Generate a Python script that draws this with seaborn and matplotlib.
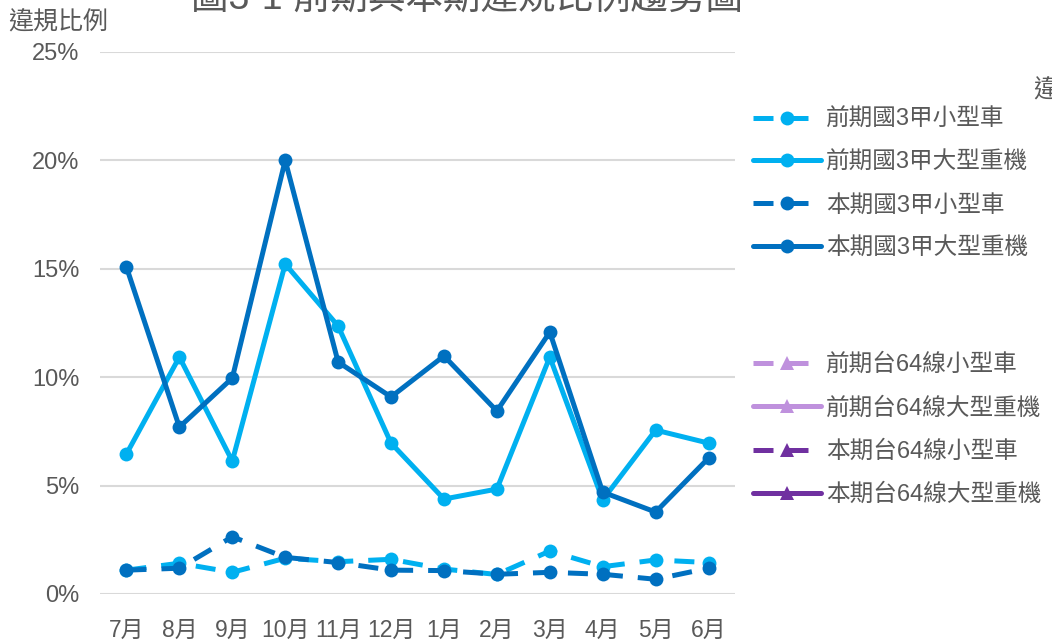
import numpy as np
import pandas as pd
import matplotlib
matplotlib.use("Agg")
import matplotlib.pyplot as plt
import seaborn as sns
from matplotlib.ticker import PercentFormatter

months = ["7月", "8月", "9月", "10月", "11月", "12月", "1月", "2月", "3月", "4月", "5月", "6月"]

prev_g3_small = [1.10, 1.42, 1.00, 1.65, 1.49, 1.60, 1.15, 0.90, 1.98, 1.26, 1.57, 1.45]
prev_g3_heavy = [6.46, 10.93, 6.13, 15.22, 12.36, 6.96, 4.38, 4.84, 10.93, 4.34, 7.56, 6.96]
curr_g3_small = [1.10, 1.19, 2.64, 1.69, 1.45, 1.10, 1.08, 0.91, 1.00, 0.91, 0.68, 1.19]
curr_g3_heavy = [15.08, 7.70, 9.96, 20.00, 10.70, 9.09, 10.98, 8.44, 12.08, 4.70, 3.78, 6.27]

labels_g3 = ["前期國3甲小型車", "前期國3甲大型重機", "本期國3甲小型車", "本期國3甲大型重機"]
labels_t64 = ["前期台64線小型車", "前期台64線大型重機", "本期台64線小型車", "本期台64線大型重機"]

title = "圖3-1 前期與本期違規比例趨勢圖"
ytitle = "違規比例"
yticks = [0, 5, 10, 15, 20, 25]

LIGHT = "#00B0F0"
DARK = "#0070C0"
PLIGHT = "#BF91DD"
PDARK = "#7030A0"
GRAY = "#595959"

sns.set_theme(style="white")
plt.rcParams["font.family"] = ["Liberation Sans", "Noto Sans CJK TC", "DejaVu Sans"]

fig = plt.figure(figsize=(10.52, 6.41), dpi=100)
ax = fig.add_axes([100 / 1052, 1 - 594 / 641, 635 / 1052, 542 / 641])

x = np.arange(len(months))
dash = (0, (4, 3))
series = [
    (prev_g3_small, LIGHT, dash, labels_g3[0]),
    (prev_g3_heavy, LIGHT, "-", labels_g3[1]),
    (curr_g3_small, DARK, dash, labels_g3[2]),
    (curr_g3_heavy, DARK, "-", labels_g3[3]),
]
h1 = []
for vals, col, ls, lab in series:
    df = pd.DataFrame({"m": x, "v": vals})
    sns.lineplot(data=df, x="m", y="v", ax=ax, color=col, linestyle=ls, linewidth=3.6,
                 marker="o", markersize=10, markeredgewidth=0, sort=False, label=lab,
                 legend=False)
    h1.append(ax.lines[-1])

# 台64線 series: no data shown in the chart (legend entries only)
t64 = [(PLIGHT, dash), (PLIGHT, "-"), (PDARK, dash), (PDARK, "-")]
h2 = []
for (col, ls), lab in zip(t64, labels_t64):
    ln, = ax.plot([], [], color=col, linestyle=ls, linewidth=3.6, marker="^",
                  markersize=10, markeredgewidth=0, label=lab)
    h2.append(ln)

ax.set_xlim(-0.5, len(months) - 0.5)
ax.set_ylim(0, 25)
ax.set_yticks(yticks)
ax.yaxis.set_major_formatter(PercentFormatter(decimals=0))
ax.set_xticks(x)
ax.set_xticklabels(months)
ax.grid(axis="y", color="#D9D9D9", linewidth=1.5)
ax.set_axisbelow(True)
for s in ax.spines.values():
    s.set_visible(False)
ax.tick_params(axis="both", colors=GRAY, labelsize=17, length=0)
ax.tick_params(axis="y", pad=15)
ax.tick_params(axis="x", pad=18, labelsize=16.5)
ax.set_xlabel("")
ax.set_ylabel("")

fig.text(8 / 1052, 1 - 23 / 641, ytitle, fontsize=18, color=GRAY, ha="left", va="center")
fig.text(1033 / 1052, 1 - 90 / 641, ytitle, fontsize=18, color=GRAY, ha="left", va="center")
fig.text(467 / 1052, 1 - 10 / 641, title, fontsize=27, color=GRAY, ha="center", va="baseline")

leg_kw = dict(frameon=False, fontsize=17, labelcolor=GRAY, handlelength=2.9,
              handletextpad=0.2, labelspacing=0.88, borderpad=0, loc="upper left")
leg1 = fig.legend(handles=h1, bbox_to_anchor=(741 / 1052, 1 - 97 / 641), **leg_kw)
leg2 = fig.legend(handles=h2, bbox_to_anchor=(741 / 1052, 1 - 342 / 641), **leg_kw)

fig.savefig("out.png", dpi=100)
